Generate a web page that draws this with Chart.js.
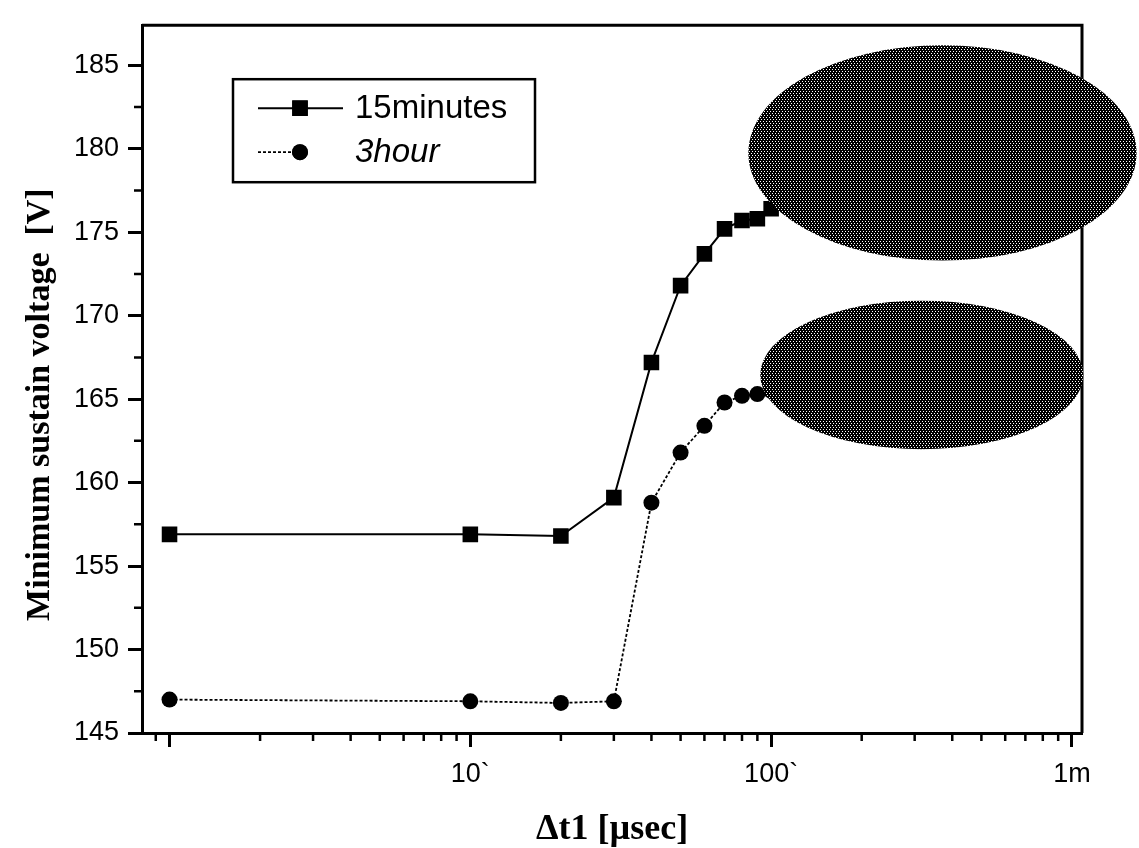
<!DOCTYPE html>
<html>
<head>
<meta charset="utf-8">
<title>Minimum sustain voltage vs delta t1</title>
<script src="https://cdn.jsdelivr.net/npm/chart.js@4.4.0/dist/chart.umd.min.js"></script>
<style>
  html, body { margin: 0; padding: 0; background: #fff; }
  #wrap { width: 1139px; height: 848px; }
</style>
</head>
<body>
<div id="wrap"><canvas id="chart" width="1139" height="848"></canvas></div>
<script>
// Delay time dt1 (usec) and minimum sustain voltage (V)
const dt15min = [1, 10, 20, 30, 40, 50, 60, 70, 80, 90, 100];
const v15min = [156.9, 156.9, 156.8, 159.1, 167.2, 171.8, 173.7, 175.2, 175.7, 175.8, 176.4];
const dt3hour = [1, 10, 20, 30, 40, 50, 60, 70, 80, 90, 100];
const v3hour = [147.0, 146.9, 146.8, 146.9, 158.8, 161.8, 163.4, 164.8, 165.2, 165.3, 165.5];

// Axis ticks
const xMajorTicks = [1, 10, 100, 1000];
const xTickLabels = ['', '10`', '100`', '1m'];
const xMinorTicks = [0.9, 2, 3, 4, 5, 6, 7, 8, 9, 20, 30, 40, 50, 60, 70, 80, 90,
                     200, 300, 400, 500, 600, 700, 800, 900];
const yMajorTicks = [145, 150, 155, 160, 165, 170, 175, 180, 185];
const yMinorTicks = [147.5, 152.5, 157.5, 162.5, 167.5, 172.5, 177.5, 182.5];

// Scanned-over dark patches (in data coords: x range, y range)
const patchUpper = { x: [84, 1640], y: [186.2, 173.3] };
const patchLower = { x: [92, 1090], y: [170.9, 162.0] };

const sansFont = "'Liberation Sans', Arial, sans-serif";
const serifFont = "'Liberation Serif', 'Times New Roman', serif";

// halftone fill for the patches
const pat = document.createElement('canvas');
pat.width = 6; pat.height = 4;
const pctx = pat.getContext('2d');
pctx.fillStyle = '#000';
pctx.fillRect(0, 0, 6, 4);
pctx.fillStyle = '#fff';
[[1, 1], [4, 1], [2, 3], [5, 3]].forEach(([a, b]) => pctx.fillRect(a, b, 1, 1));

function drawPatch(ctx, xs, ys, p) {
    const x0 = xs.getPixelForValue(p.x[0]), x1 = xs.getPixelForValue(p.x[1]);
    const y0 = ys.getPixelForValue(p.y[0]), y1 = ys.getPixelForValue(p.y[1]);
    ctx.beginPath();
    ctx.ellipse((x0 + x1) / 2, (y0 + y1) / 2, Math.abs(x1 - x0) / 2, Math.abs(y1 - y0) / 2, 0, 0, Math.PI * 2);
    ctx.fillStyle = ctx.createPattern(pat, 'repeat');
    ctx.fill();
}

const extras = {
    id: 'extras',
    afterDraw(chart) {
        const ctx = chart.ctx;
        const { left, right, top, bottom } = chart.chartArea;
        const xs = chart.scales.x, ys = chart.scales.y;
        ctx.save();

        // top and right frame
        ctx.strokeStyle = '#000';
        ctx.lineWidth = 3;
        ctx.beginPath();
        ctx.moveTo(left, top);
        ctx.lineTo(right, top);
        ctx.lineTo(right, bottom);
        ctx.stroke();

        // minor ticks
        ctx.lineWidth = 2.5;
        ctx.beginPath();
        xMinorTicks.forEach(v => {
            const px = xs.getPixelForValue(v);
            ctx.moveTo(px, bottom);
            ctx.lineTo(px, bottom + 8);
        });
        yMinorTicks.forEach(v => {
            const py = ys.getPixelForValue(v);
            ctx.moveTo(left - 8, py);
            ctx.lineTo(left, py);
        });
        ctx.stroke();

        // patches
        drawPatch(ctx, xs, ys, patchUpper);
        drawPatch(ctx, xs, ys, patchLower);

        // legend box
        const lx = left + 91, ly = top + 54;
        ctx.lineWidth = 2.5;
        ctx.strokeStyle = '#000';
        ctx.strokeRect(lx, ly, 302, 103);

        const ds = chart.data.datasets;
        const rows = [ly + 29, ly + 73];
        ds.forEach((d, i) => {
            const y = rows[i];
            ctx.beginPath();
            ctx.lineWidth = d.borderWidth;
            ctx.setLineDash(d.borderDash || []);
            ctx.moveTo(lx + 25, y);
            ctx.lineTo(i === 0 ? lx + 110 : lx + 60, y);
            ctx.stroke();
            ctx.setLineDash([]);
            ctx.fillStyle = '#000';
            Chart.helpers.drawPoint(ctx, {
                pointStyle: d.pointStyle, radius: d.pointRadius, borderWidth: 0, rotation: 0
            }, lx + 67, y);
            ctx.fill();
            ctx.font = (i === 1 ? 'italic ' : '') + '33px ' + sansFont;
            ctx.textBaseline = 'middle';
            ctx.textAlign = 'left';
            ctx.fillText(d.label, lx + 122, y + 1);
        });
        ctx.restore();
    }
};

new Chart(document.getElementById('chart'), {
    type: 'line',
    data: {
        datasets: [
            {
                label: '15minutes',
                data: dt15min.map((x, i) => ({ x, y: v15min[i] })),
                borderColor: '#000',
                backgroundColor: '#000',
                borderWidth: 2,
                pointStyle: 'rect',
                pointRadius: 11,
                pointBorderWidth: 0,
                tension: 0
            },
            {
                label: '3hour',
                data: dt3hour.map((x, i) => ({ x, y: v3hour[i] })),
                borderColor: '#000',
                backgroundColor: '#000',
                borderWidth: 1.8,
                borderDash: [3, 2],
                pointStyle: 'circle',
                pointRadius: 8,
                pointBorderWidth: 0,
                tension: 0
            }
        ]
    },
    options: {
        responsive: false,
        animation: false,
        layout: { padding: { left: 0, right: 57, top: 20, bottom: 0 } },
        plugins: { legend: { display: false }, tooltip: { enabled: false } },
        scales: {
            x: {
                type: 'logarithmic',
                min: 0.81,
                max: 1080,
                afterBuildTicks: s => { s.ticks = xMajorTicks.map(v => ({ value: v })); },
                afterFit: s => { s.height = 115; },
                ticks: {
                    autoSkip: false,
                    maxRotation: 0,
                    padding: 11,
                    color: '#000',
                    font: { family: sansFont, size: 27 },
                    callback: (v, i) => xTickLabels[i]
                },
                grid: { drawOnChartArea: false, tickLength: 14, tickWidth: 3, color: '#000' },
                border: { color: '#000', width: 3 },
                title: {
                    display: true,
                    text: 'Δt1 [µsec]',
                    color: '#000',
                    font: { family: serifFont, size: 36, weight: 'bold', lineHeight: 1.0 },
                    padding: { top: 0, bottom: 0 }
                }
            },
            y: {
                type: 'linear',
                min: 145,
                max: 187.4,
                afterBuildTicks: s => { s.ticks = yMajorTicks.map(v => ({ value: v })); },
                afterFit: s => { s.width = 142; },
                ticks: {
                    padding: 9,
                    color: '#000',
                    font: { family: sansFont, size: 27 }
                },
                grid: { drawOnChartArea: false, tickLength: 14, tickWidth: 3, color: '#000' },
                border: { color: '#000', width: 3 },
                title: {
                    display: true,
                    // trailing spaces push the rotated label down to where it sits in the original
                    text: 'Minimum sustain voltage  [V]\u00a0\u00a0\u00a0\u00a0\u00a0\u00a0',
                    color: '#000',
                    font: { family: serifFont, size: 34, weight: 'bold', lineHeight: 1.2 },
                    padding: { top: 20, bottom: 0 }
                }
            }
        }
    },
    plugins: [extras]
});
</script>
</body>
</html>
